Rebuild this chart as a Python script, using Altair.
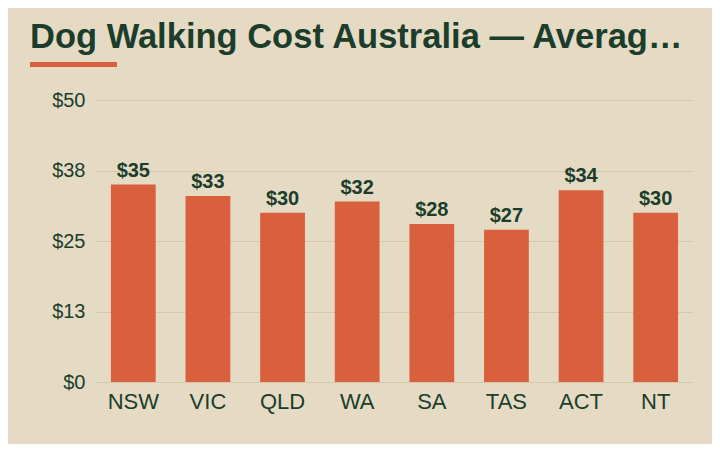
import altair as alt
import pandas as pd

regions = ["NSW", "VIC", "QLD", "WA", "SA", "TAS", "ACT", "NT"]
costs = [35, 33, 30, 32, 28, 27, 34, 30]
y_ticks = [0, 12.5, 25, 37.5, 50]
title_text = "Dog Walking Cost Australia — Averag…"

BG = "#E5DBC4"
BAR = "#D9603C"
INK = "#1C3D2B"
GRID = "#D3C7AC"
FONT = "Liberation Sans"

df = pd.DataFrame({"region": regions, "cost": costs})

base = alt.Chart(df)

bars = base.mark_bar(color=BAR).encode(
    x=alt.X("region:N", sort=regions,
            scale=alt.Scale(paddingInner=0.4, paddingOuter=0.2),
            axis=alt.Axis(title=None, labelAngle=0, labelFontSize=22, labelColor=INK,
                          labelFont=FONT, labelPadding=9, ticks=False, domain=False, grid=False)),
    y=alt.Y("cost:Q", scale=alt.Scale(domain=[0, 50], nice=False),
            axis=alt.Axis(title=None, values=y_ticks, format="$.0f", labelFontSize=20,
                          labelColor=INK, labelFont=FONT, labelPadding=11, ticks=False,
                          domain=False, gridColor=GRID, gridWidth=1)),
)

labels = base.mark_text(baseline="alphabetic", dy=-8, fontSize=20, fontWeight="bold",
                        font=FONT, color=INK).encode(
    x=alt.X("region:N", sort=regions),
    y="cost:Q",
    text=alt.Text("cost:Q", format="$.0f"),
)

underline = alt.Chart(pd.DataFrame({"k": [0]})).mark_rect(color=BAR).encode(
    x=alt.value(-66), x2=alt.value(21), y=alt.value(-38), y2=alt.value(-33)
)

chart = alt.layer(bars, labels, underline).properties(
    width=597, height=282,
    background=BG,
    padding={"left": 88, "top": 92, "right": 19, "bottom": 62},
    autosize=alt.AutoSizeParams(type="none"),
    title=alt.Title(title_text, anchor="start", fontSize=34.5, fontWeight="bold",
                    font=FONT, color=INK, baseline="alphabetic", offset=-20),
).configure_view(stroke=None)

chart.save("out.html", embed_options={"renderer": "svg", "actions": False})
